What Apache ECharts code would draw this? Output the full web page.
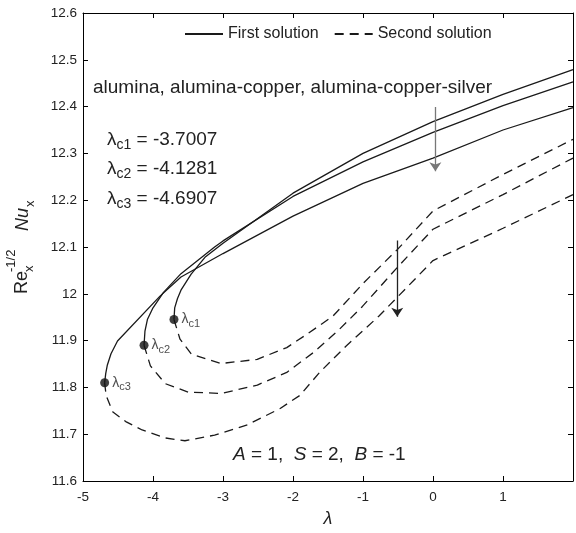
<!DOCTYPE html>
<html>
<head>
<meta charset="utf-8">
<script src="https://cdn.jsdelivr.net/npm/echarts@6/dist/echarts.min.js"></script>
<style>html,body{margin:0;padding:0;background:#fff}#c{width:576px;height:533px}</style>
</head>
<body>
<div id="c"></div>
<script>
// ---- data ----
const xTicks = [-5, -4, -3, -2, -1, 0, 1];
const yTicks = [11.6, 11.7, 11.8, 11.9, 12, 12.1, 12.2, 12.3, 12.4, 12.5, 12.6];
const criticalNames = ['c1', 'c2', 'c3'];
const criticalValues = [[-3.7007, 11.945], [-4.1281, 11.89], [-4.6907, 11.81]];

const first1 = [[-3.7007,11.945],[-3.69,11.97],[-3.65,11.99],[-3.596,12.009],[-3.455,12.042],[-3.258,12.078],[-3.0,12.108],[-2,12.215],[-1,12.300],[0,12.368],[1,12.426],[2,12.479]];
const first2 = [[-4.1281,11.89],[-4.115,11.92],[-4.08,11.945],[-4.0,11.97],[-3.85,12.003],[-3.6,12.043],[-3.12,12.1],[-3,12.113],[-2,12.208],[-1,12.282],[0,12.345],[1,12.402],[2,12.453]];
const first3 = [[-4.6907,11.81],[-4.675,11.83],[-4.652,11.848],[-4.6,11.872],[-4.507,11.899],[-3.9,11.995],[-3.6,12.036],[-3,12.086],[-2,12.166],[-1,12.236],[0,12.29],[1,12.35],[2,12.398]];

const second1 = [[-3.7007,11.945],[-3.614,11.903],[-3.451,11.871],[-3.028,11.851],[-2.511,11.86],[-2.089,11.885],[-1.808,11.913],[-1.431,11.952],[-1.0,12.022],[-0.5,12.096],[0,12.177],[1,12.255],[2,12.33]];
const second2 = [[-4.1281,11.89],[-4.037,11.846],[-3.825,11.808],[-3.497,11.790],[-3.028,11.787],[-2.51,11.805],[-2.089,11.832],[-1.713,11.874],[-1.338,11.924],[-1.008,11.973],[-0.5,12.058],[0,12.138],[1,12.212],[2,12.29]];
const second3 = [[-4.6907,11.81],[-4.67,11.783],[-4.577,11.748],[-4.389,11.727],[-4.155,11.709],[-3.825,11.692],[-3.544,11.686],[-3.12,11.698],[-2.652,11.72],[-2.183,11.755],[-1.901,11.783],[-1.62,11.832],[-1.244,11.888],[-0.775,11.952],[0,12.071],[1,12.14],[2,12.212]];

const arrow1 = [[0.034, 12.399], [0.034, 12.262]];
const arrow2 = [[-0.511, 12.114], [-0.511, 11.951]];

// ---- chart ----
const FONT = '"Liberation Sans", Arial, sans-serif';
const chart = echarts.init(document.getElementById('c'), null, {renderer: 'canvas'});
const lineCol = '#1a1a1a';

function solid(d) {
  return {type: 'line', name: 'First solution', data: d, symbol: 'none', smooth: false,
    lineStyle: {color: lineCol, width: 1.3, type: 'solid'}, itemStyle: {color: lineCol}, z: 3, clip: true};
}
function dashed(d) {
  return {type: 'line', name: 'Second solution', data: d, symbol: 'none', smooth: false,
    lineStyle: {color: lineCol, width: 1.3, type: [9, 6]}, itemStyle: {color: lineCol}, z: 3, clip: true};
}

const axisCommon = {
  axisLine: {show: true, onZero: false, lineStyle: {color: '#000', width: 1}},
  axisTick: {show: true, inside: true, length: 5, lineStyle: {color: '#000'}},
  splitLine: {show: false}
};
const T17 = {fontFamily: FONT, fontSize: 19, fill: '#222'};
function lamText(sub, val) {
  return '{l|λ}{s|' + sub + '}{n| = ' + val + '}';
}
const lamRich = {l: T17, s: {fontFamily: FONT, fontSize: 14, fill: '#222', padding: [11, 0, 0, 0]}, n: T17};

const option = {
  animation: false,
  backgroundColor: '#fff',
  textStyle: {fontFamily: FONT},
  grid: {left: 83, right: -4, top: 13, bottom: 46, containLabel: false},
  legend: {
    data: ['First solution', 'Second solution'],
    left: 179, top: 21, itemWidth: 38, itemHeight: 14, itemGap: 15,
    itemStyle: {opacity: 0},
    textStyle: {fontFamily: FONT, fontSize: 16, color: '#222'},
    selectedMode: false
  },
  xAxis: [
    Object.assign({type: 'value', min: -5, max: 2, interval: 1, position: 'bottom',
      name: 'λ', nameLocation: 'middle', nameGap: 29,
      nameTextStyle: {fontFamily: FONT, fontSize: 18, fontStyle: 'italic', color: '#222'},
      axisLabel: {fontFamily: FONT, fontSize: 13.5, color: '#222', margin: 9,
        formatter: v => (xTicks.indexOf(v) >= 0 ? String(v) : '')}}, axisCommon),
    Object.assign({type: 'value', min: -5, max: 2, interval: 1, position: 'top',
      axisLabel: {show: false}}, axisCommon)
  ],
  yAxis: [
    Object.assign({type: 'value', min: 11.6, max: 12.6, interval: 0.1, position: 'left',
      axisLabel: {fontFamily: FONT, fontSize: 13.5, color: '#222', margin: 6,
        formatter: v => { const t = yTicks.find(k => Math.abs(k - v) < 1e-6); return t === undefined ? '' : String(t); }}}, axisCommon),
    Object.assign({type: 'value', min: 11.6, max: 12.6, interval: 0.1, position: 'right',
      axisLabel: {show: false}}, axisCommon)
  ],
  series: [
    solid(first1), solid(first2), solid(first3),
    dashed(second1), dashed(second2), dashed(second3),
    {type: 'scatter', name: 'critical', data: criticalValues.map((v, i) => ({value: v, nm: criticalNames[i]})),
      symbol: 'circle', symbolSize: 9, itemStyle: {color: '#111'}, z: 5,
      label: {show: true, position: 'right', distance: 3,
        formatter: p => '{l|λ}{s|' + p.data.nm + '}',
        rich: {l: {fontFamily: FONT, fontSize: 14, color: '#222'},
               s: {fontFamily: FONT, fontSize: 11, color: '#222', padding: [9, 0, 0, 0]}}}},
    {type: 'lines', coordinateSystem: 'cartesian2d', polyline: false, z: 4,
      data: [{coords: arrow1, lineStyle: {color: '#777'}}, {coords: arrow2, lineStyle: {color: '#222'}}],
      symbol: ['none', 'arrow'], symbolSize: [7, 9],
      lineStyle: {width: 1.3, opacity: 1}}
  ],
  graphic: [
    {type: 'text', left: 93, top: 78, style: {text: 'alumina, alumina-copper, alumina-copper-silver',
      fontFamily: FONT, fontSize: 19, fill: '#222'}},
    {type: 'text', x: 107, y: 140, style: {text: lamText('c1', '-3.7007'), verticalAlign: 'middle', rich: lamRich}},
    {type: 'text', x: 107, y: 169, style: {text: lamText('c2', '-4.1281'), verticalAlign: 'middle', rich: lamRich}},
    {type: 'text', x: 107, y: 199, style: {text: lamText('c3', '-4.6907'), verticalAlign: 'middle', rich: lamRich}},
    {type: 'text', x: 233, y: 455, style: {text: '{i|A}{n| = 1,  }{i|S}{n| = 2,  }{i|B}{n| = -1}', verticalAlign: 'middle',
      rich: {i: {fontFamily: FONT, fontSize: 19, fontStyle: 'italic', fill: '#222'}, n: T17}}},
    // y-axis title, rotated pieces
    {type: 'text', x: 22, y: 294, rotation: Math.PI / 2, style: {text: 'Re', fontFamily: FONT, fontSize: 18, fill: '#222', align: 'left', verticalAlign: 'middle'}},
    {type: 'text', x: 11, y: 272, rotation: Math.PI / 2, style: {text: '-1/2', fontFamily: FONT, fontSize: 13, fill: '#222', align: 'left', verticalAlign: 'middle'}},
    {type: 'text', x: 29, y: 272, rotation: Math.PI / 2, style: {text: 'x', fontFamily: FONT, fontSize: 13, fill: '#222', align: 'left', verticalAlign: 'middle'}},
    {type: 'text', x: 23, y: 231, rotation: Math.PI / 2, style: {text: 'Nu', fontFamily: FONT, fontSize: 18, fontStyle: 'italic', fill: '#222', align: 'left', verticalAlign: 'middle'}},
    {type: 'text', x: 30, y: 207, rotation: Math.PI / 2, style: {text: 'x', fontFamily: FONT, fontSize: 13, fill: '#222', align: 'left', verticalAlign: 'middle'}}
  ]
};
chart.setOption(option);
</script>
</body>
</html>
